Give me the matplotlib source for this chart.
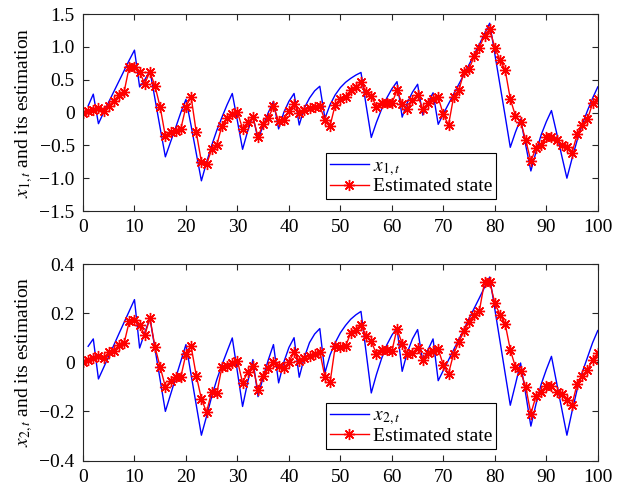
import numpy as np
import matplotlib
matplotlib.use("Agg")
import matplotlib.pyplot as plt

plt.rcParams['font.family'] = ['Liberation Serif', 'DejaVu Serif']
plt.rcParams['mathtext.fontset'] = 'stix'

t_true = list(range(1, 101))
t_est = list(range(0, 101))

x1_true = [0.1, 0.28, -0.17, 0.0, 0.16, 0.32, 0.48, 0.64, 0.8, 0.95,
           0.39, 0.5, 0.64, 0.2, -0.24, -0.675, -0.45, -0.23, 0.0, 0.2,
           -0.2, -0.62, -1.04, -0.76, -0.5, -0.27, -0.07, 0.12, 0.29, -0.13,
           -0.56, -0.28, -0.05, -0.41, -0.2, 0.0, 0.17, -0.25, 0.0, 0.17,
           0.29, -0.19, 0.07, 0.22, 0.33, 0.4, -0.09, 0.12, 0.27, 0.38,
           0.46, 0.52, 0.57, 0.61, 0.11, -0.38, -0.15, 0.05, 0.22, 0.36,
           0.47, -0.07, 0.15, 0.31, 0.43, -0.04, 0.15, 0.3, -0.18, -0.02,
           0.13, 0.28, 0.43, 0.58, 0.73, 0.89, 1.04, 1.2, 1.36, 0.89,
           0.42, -0.05, -0.53, -0.3, -0.1, -0.5, -0.89, -0.6, -0.34, -0.14,
           0.03, -0.31, -0.66, -1.0, -0.7, -0.42, -0.18, 0.03, 0.22, 0.39]

x1_est = [0.0, 0.02, 0.04, 0.07, 0.03, 0.1, 0.18, 0.26, 0.32, 0.7,
          0.7, 0.61, 0.44, 0.62, 0.4, 0.08, -0.36, -0.3, -0.28, -0.25,
          0.09, 0.24, -0.3, -0.75, -0.79, -0.56, -0.49, -0.2, -0.09, -0.03,
          0.01, -0.25, -0.15, -0.07, -0.37, -0.17, -0.09, 0.1, -0.13, -0.12,
          0.03, 0.13, 0.0, 0.04, 0.07, 0.09, 0.1, -0.12, -0.2, 0.12,
          0.2, 0.23, 0.34, 0.39, 0.46, 0.32, 0.25, 0.09, 0.14, 0.15,
          0.14, 0.34, 0.13, 0.05, 0.19, 0.26, 0.05, 0.14, 0.2, 0.23,
          -0.03, -0.19, 0.24, 0.34, 0.61, 0.66, 0.86, 0.99, 1.17, 1.27,
          0.99, 0.8, 0.65, 0.21, -0.05, -0.14, -0.42, -0.74, -0.54, -0.49,
          -0.38, -0.37, -0.42, -0.49, -0.53, -0.61, -0.33, -0.19, -0.1, 0.14,
          0.2]

x2_true = [0.065, 0.095, -0.068, -0.022, 0.024, 0.07, 0.117, 0.163, 0.209, 0.255,
           0.058, 0.12, 0.18, 0.053, -0.073, -0.2, -0.132, -0.064, 0.004, 0.072,
           -0.051, -0.174, -0.297, -0.22, -0.14, -0.07, -0.01, 0.045, 0.099, -0.04,
           -0.18, -0.08, 0.011, -0.14, -0.06, 0.01, 0.072, -0.084, 0.0, 0.06,
           0.1, -0.061, 0.02, 0.08, 0.115, 0.137, -0.043, 0.03, 0.08, 0.12,
           0.15, 0.175, 0.193, 0.207, 0.04, -0.125, -0.05, 0.015, 0.07, 0.11,
           0.14, -0.037, 0.04, 0.095, 0.133, 0.004, 0.05, 0.095, -0.075, -0.033,
           0.009, 0.051, 0.093, 0.135, 0.178, 0.22, 0.262, 0.305, 0.347, 0.216,
           0.086, -0.045, -0.175, -0.09, -0.003, -0.13, -0.26, -0.17, -0.09, -0.03,
           0.024, -0.083, -0.19, -0.297, -0.2, -0.11, -0.04, 0.02, 0.08, 0.129]

x2_est = [0.0, 0.011, 0.018, 0.024, 0.018, 0.04, 0.045, 0.072, 0.079, 0.167,
          0.173, 0.153, 0.11, 0.18, 0.061, -0.02, -0.10, -0.077, -0.061, -0.06,
          0.034, 0.065, -0.054, -0.149, -0.203, -0.12, -0.125, -0.019, -0.014, -0.005,
          0.007, -0.084, -0.04, -0.016, -0.114, -0.054, -0.023, 0.001, -0.016, -0.023,
          0.0, 0.041, 0.004, 0.018, 0.027, 0.034, 0.042, -0.06, -0.081, 0.065,
          0.062, 0.065, 0.119, 0.133, 0.153, 0.108, 0.085, 0.034, 0.051, 0.049,
          0.045, 0.137, 0.075, 0.035, 0.038, 0.058, 0.011, 0.038, 0.045, 0.054,
          -0.012, -0.046, 0.035, 0.081, 0.126, 0.164, 0.191, 0.21, 0.327, 0.327,
          0.241, 0.194, 0.157, 0.051, -0.019, -0.037, -0.10, -0.209, -0.138, -0.122,
          -0.098, -0.098, -0.122, -0.129, -0.152, -0.172, -0.087, -0.057, -0.033, 0.011,
          0.038]

xticks = list(range(0, 101, 10))
y1_ticks = [-1.5, -1.0, -0.5, 0, 0.5, 1.0, 1.5]
y1_labels = ['\u22121.5', '\u22121.0', '\u22120.5', '0', '0.5', '1.0', '1.5']
y2_ticks = [-0.4, -0.2, 0, 0.2, 0.4]
y2_labels = ['\u22120.4', '\u22120.2', '0', '0.2', '0.4']

fig = plt.figure(figsize=(6.24, 4.87), dpi=100)
ax1 = fig.add_axes([0.133, 0.5667, 0.825, 0.4045])
ax2 = fig.add_axes([0.133, 0.0544, 0.825, 0.4035])

ast = (8, 2, 0)
fs = 14

def style(ax, yticks, ylabels, ylim, ylabel):
    ax.set_xlim(0, 100)
    ax.set_ylim(*ylim)
    ax.set_xticks(xticks)
    ax.set_xticklabels([str(v) for v in xticks])
    ax.set_yticks(yticks)
    ax.set_yticklabels(ylabels)
    ax.tick_params(direction='in', top=True, right=True, length=4,
                   width=0.8, labelsize=fs, colors='#262626', labelcolor='black')
    ax.tick_params(axis='x', pad=6)
    ax.tick_params(axis='y', pad=6)
    for s in ax.spines.values():
        s.set_color('#262626')
        s.set_linewidth(0.8)
    ax.set_ylabel(ylabel, fontsize=fs, labelpad=3)

for ax, tr, es, yt, yl, lim, lab, leg in [
        (ax1, x1_true, x1_est, y1_ticks, y1_labels, (-1.5, 1.5),
         r'$x_{1,t}$ and its estimation', r'$x_{1,t}$'),
        (ax2, x2_true, x2_est, y2_ticks, y2_labels, (-0.4, 0.4),
         r'$x_{2,t}$ and its estimation', r'$x_{2,t}$')]:
    ax.plot(t_true, tr, color='#0000ff', lw=1.0, label=leg)
    ax.plot(t_est, es, color='#ff0000', lw=1.0, marker=ast, ms=8, mew=1.0,
            label='Estimated state')
    style(ax, yt, yl, lim, lab)
    lg = ax.legend(loc='lower right', bbox_to_anchor=(0.802, 0.06), fontsize=fs,
                   frameon=True, fancybox=False, edgecolor='black', framealpha=1,
                   handlelength=2.0, borderpad=0.2, labelspacing=0.0, handletextpad=0.2,
                   borderaxespad=0)
    lg.get_frame().set_linewidth(0.8)

fig.savefig('out.png', dpi=100)
